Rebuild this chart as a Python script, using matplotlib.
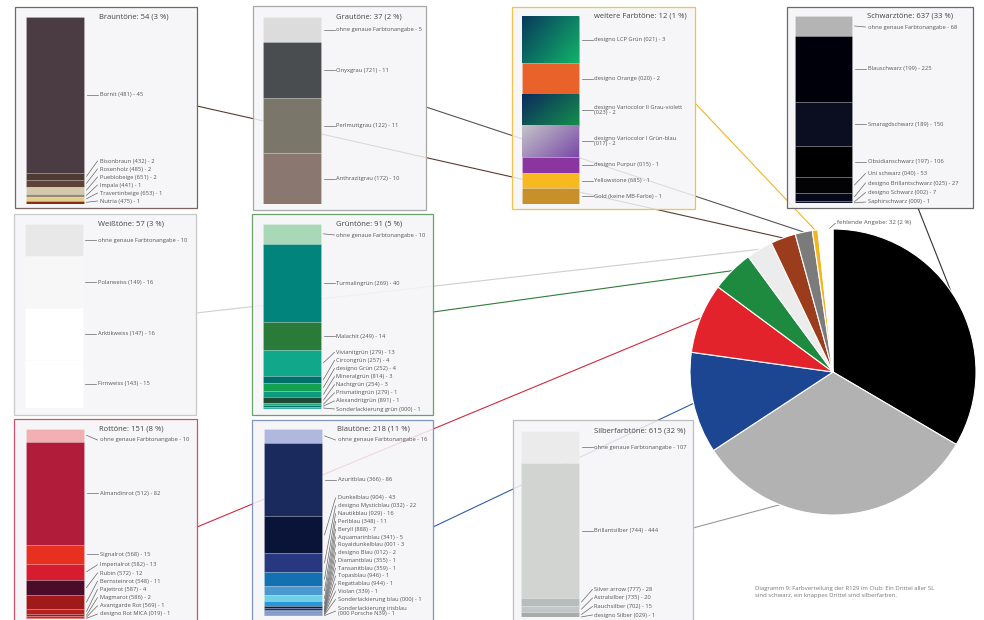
import numpy as np
import matplotlib
matplotlib.use("Agg")
import matplotlib.pyplot as plt
from matplotlib.patches import Rectangle
from matplotlib.colors import LinearSegmentedColormap

plt.rcParams["font.family"] = ["Open Sans", "DejaVu Sans"]
W, H = 984, 620
FS_LAB = 4.15
FS_TIT = 5.5

# ================================================================== DATA
pie_names = ["Schwarztöne", "Silberfarbtöne", "Blautöne", "Rottöne", "Grüntöne",
             "Weißtöne", "Brauntöne", "Grautöne", "weitere Farbtöne", "fehlende Angebe"]
pie_vals = [637, 615, 218, 151, 91, 57, 54, 37, 12, 32]
pie_cols = ["#000000", "#b2b2b2", "#1c4592", "#e3232b", "#1d8a3f",
            "#ececec", "#9b3d1c", "#7b7b7b", "#f2b51e", "#ffffff"]

braun_names = ["Bornit (481)", "Bisonbraun (432)", "Rosenholz (485)", "Pueblobeige (651)",
               "Impala (441)", "Travertinbeige (653)", "Nutria (475)"]
braun_vals = [45, 2, 2, 2, 1, 1, 1]
braun_cols = ["#4b3b42", "#4e3a33", "#5e4236", "#d5c9ad", "#9c8a70", "#e3cf8e", "#8b2d14"]

grau_names = ["ohne genaue Farbtonangabe", "Onyxgrau (721)", "Perlmuttgrau (122)", "Anthrazitgrau (172)"]
grau_vals = [5, 11, 11, 10]
grau_cols = ["#dcdcdc", "#4a4d50", "#7a766a", "#8a7870"]

weitere_names = ["designo LCP Grün (021)", "designo Orange (020)",
                 "designo Variocolor II Grau-violett\n(023)", "designo Variocolor I Grün-blau\n(017)",
                 "designo Purpur (015)", "Yellowstone (685)", "Gold (keine MB-Farbe)"]
weitere_vals = [3, 2, 2, 2, 1, 1, 1]
weitere_cols = ["#0c5a5c", "#e8622a", "#105050", "#a890b8", "#8a35a0", "#f8b820", "#c8902a"]
weitere_grad = {0: ("#083a5c", "#12b26a"), 2: ("#0c2a5e", "#14904c"), 3: ("#c4c4c8", "#7a4aa8")}

schwarz_names = ["ohne genaue Farbtonangabe", "Blauschwarz (199)", "Smaragdschwarz (189)",
                 "Obsidianschwarz (197)", "Uni schwarz (040)", "designo Brillantschwarz (025)",
                 "designo Schwarz (002)", "Saphirschwarz (009)"]
schwarz_vals = [68, 225, 150, 106, 53, 27, 7, 1]
schwarz_cols = ["#b4b4b4", "#00000a", "#0b0d20", "#000000", "#030306", "#07071a", "#10102e", "#1a1a4a"]

weiss_names = ["ohne genaue Farbtonangabe", "Polarweiss (149)", "Arktikweiss (147)", "Firnweiss (143)"]
weiss_vals = [10, 16, 16, 15]
weiss_cols = ["#e8e8e8", "#f7f7f7", "#ffffff", "#ffffff"]

gruen_names = ["ohne genaue Farbtonangabe", "Turmalingrün (269)", "Malachit (249)", "Vivianitgrün (279)",
               "Circongrün (257)", "designo Grün (252)", "Mineralgrün (814)", "Nachtgrün (254)",
               "Prismatingrün (279)", "Alexandritgrün (891)", "Sonderlackierung grün (000)"]
gruen_vals = [10, 40, 14, 13, 4, 4, 3, 3, 1, 1, 1]
gruen_cols = ["#a8d8b8", "#00847c", "#2a7a3a", "#10a88a", "#006e6a", "#10a050", "#0e9a80",
              "#1e4a34", "#20a880", "#10706a", "#30b0a0"]

rot_names = ["ohne genaue Farbtonangabe", "Almandinrot (512)", "Signalrot (568)", "Imperialrot (582)",
             "Rubin (572)", "Bernsteinrot (548)", "Pajettrot (587)", "Magmarot (586)",
             "Avantgarde Rot (569)", "designo Rot MICA (019)"]
rot_vals = [10, 82, 15, 13, 12, 11, 4, 2, 1, 1]
rot_cols = ["#f2b0b4", "#b01c3a", "#e83020", "#d81c30", "#4a0c2a", "#a01a1a", "#b82020",
            "#961c1c", "#d02828", "#e02a2a"]

blau_names = ["ohne genaue Farbtonangabe", "Azuritblau (366)", "Dunkelblau (904)", "designo Mysticblau (032)",
              "Nautikblau (929)", "Perlblau (348)", "Beryll (888)", "Aquamarinblau (341)",
              "Royaldunkelblau (001", "designo Blau (012)", "Diamantblau (355)", "Tansanitblau (359)",
              "Topasblau (946)", "Regattablau (944)", "Violan (339)", "Sonderlackierung blau (000)",
              "Sonderlackierung irisblau\n(000 Porsche N39)"]
blau_vals = [16, 86, 43, 22, 16, 11, 7, 5, 3, 2, 1, 1, 1, 1, 1, 1, 1]
blau_cols = ["#b0b8e0", "#1a2a5c", "#0a1438", "#283880", "#1470b0", "#4a9ad0", "#70d0e8", "#2a98d8",
             "#101a40", "#1a3070", "#4060a0", "#6070b0", "#2050a0", "#3060b0", "#5a60a8", "#3a60a8", "#6a80c0"]

silber_names = ["ohne genaue Farbtonangabe", "Brillantsilber (744)", "Silver arrow (777)",
                "Astralsilber (735)", "Rauchsilber (702)", "designo Silber (029)"]
silber_vals = [107, 444, 28, 20, 15, 1]
silber_cols = ["#ebebeb", "#d2d4d2", "#b8bcbc", "#c2c6c6", "#a8aca8", "#b0b49a"]

caption = ("Diagramm 9: Farbverteilung der R129 im Club: Ein Drittel aller SL\n"
           "sind schwarz, ein knappes Drittel sind silberfarben.")

# ================================================================== LAYOUT (pixels)
groups = [
    dict(key="Brauntöne", names=braun_names, vals=braun_vals, cols=braun_cols,
         box=(15, 7, 197, 208), bar=(26, 17, 84, 204), edge="#7d6262", n_main=1, sp=8.0, pad=3,
         anchor=(197, 106), lcol="#5b3b33", frac=0.5),
    dict(key="Grautöne", names=grau_names, vals=grau_vals, cols=grau_cols,
         box=(253, 6, 426, 210), bar=(263, 17, 321, 204), edge="#a8a8a8", n_main=4, sp=8.0, pad=2,
         anchor=(426, 107), lcol="#555555", frac=0.5),
    dict(key="weitere Farbtöne", names=weitere_names, vals=weitere_vals, cols=weitere_cols,
         box=(512, 7, 695, 209), bar=(522, 16, 579, 204), edge="#f2c24a", n_main=7, sp=8.0, pad=2,
         anchor=(695, 103), lcol="#f0b428", frac=0.5, grad=weitere_grad),
    dict(key="Schwarztöne", names=schwarz_names, vals=schwarz_vals, cols=schwarz_cols,
         box=(787, 7, 973, 208), bar=(795, 16, 852, 203), edge="#6a6a6a", n_main=4, sp=9.5, pad=1,
         anchor=(918, 208), lcol="#333333", frac=0.46),
    dict(key="Weißtöne", names=weiss_names, vals=weiss_vals, cols=weiss_cols,
         box=(14, 214, 196, 415), bar=(25, 224, 83, 408), edge="#c8c8c8", n_main=4, sp=8.0, pad=2,
         anchor=(196, 313), lcol="#cfcfcf", frac=0.5),
    dict(key="Grüntöne", names=gruen_names, vals=gruen_vals, cols=gruen_cols,
         box=(252, 214, 433, 415), bar=(263, 224, 321, 409), edge="#6aa06a", n_main=3, sp=8.1, pad=0,
         anchor=(433, 312), lcol="#2f7d3a", frac=0.5),
    dict(key="Rottöne", names=rot_names, vals=rot_vals, cols=rot_cols,
         box=(14, 419, 197, 621), bar=(26, 429, 84, 619), edge="#d4506a", n_main=3, sp=8.2, pad=5,
         anchor=(197, 527), lcol="#cf2a40", frac=0.5),
    dict(key="Blautöne", names=blau_names, vals=blau_vals, cols=blau_cols,
         box=(252, 420, 433, 621), bar=(264, 429, 322, 616), edge="#7f95c0", n_main=2, sp=7.8, pad=1,
         anchor=(433, 527), lcol="#2f5da0", frac=0.5),
    dict(key="Silberfarbtöne", names=silber_names, vals=silber_vals, cols=silber_cols,
         box=(513, 420, 693, 621), bar=(521, 431, 579, 617), edge="#bdbdbd", n_main=2, sp=8.5, pad=2,
         anchor=(693, 528), lcol="#999999", frac=0.7),
]
PIE_C = (833, 372); PIE_R = 143

fig = plt.figure(figsize=(W / 100, H / 100), dpi=100)
bg = fig.add_axes([0, 0, 1, 1]); bg.set_xlim(0, W); bg.set_ylim(H, 0); bg.axis("off")

# ================================================================== PIE
axp = fig.add_axes([(PIE_C[0] - PIE_R) / W, 1 - (PIE_C[1] + PIE_R) / H, 2 * PIE_R / W, 2 * PIE_R / H])
wedges, _ = axp.pie(pie_vals, colors=pie_cols, startangle=90, counterclock=False,
                    wedgeprops=dict(edgecolor="white", linewidth=0.8))
axp.set_xlim(-1, 1); axp.set_ylim(-1, 1)
pie_total = sum(pie_vals)

def wedge_point(i, frac, r=1.0):
    w = wedges[i]
    a = np.deg2rad(w.theta2 - frac * (w.theta2 - w.theta1))
    disp = axp.transData.transform((r * np.cos(a), r * np.sin(a)))
    return bg.transData.inverted().transform(disp)

# missing-value label
mx, my = wedge_point(9, 0.5, 1.0)
bg.plot([mx + 2, mx + 10], [my + 1, my - 6], color="#666", lw=0.5, zorder=1)
bg.text(mx + 12, my - 7, f"fehlende Angebe: {pie_vals[9]} ({pie_vals[9] / pie_total * 100:.0f} %)",
        fontsize=FS_LAB + 0.3, color="#555", va="center", ha="left")

# ================================================================== BOXES
for g in groups:
    bx0, by0, bx1, by1 = g["box"]
    rx0, ry0, rx1, ry1 = g["bar"]
    gi = pie_names.index(g["key"])
    # connector line to wedge
    ex, ey = wedge_point(gi, g["frac"])
    bg.plot([g["anchor"][0], ex], [g["anchor"][1], ey], color=g["lcol"], lw=0.8, zorder=1)
    bg.add_patch(Rectangle((bx0, by0), bx1 - bx0, by1 - by0, facecolor=(0.962, 0.962, 0.97, 0.85),
                           edgecolor=g["edge"], lw=0.9, zorder=3))

    ax = fig.add_axes([rx0 / W, 1 - ry1 / H, (bx1 - rx0) / W, (ry1 - ry0) / H])
    ax.patch.set_visible(False); ax.axis("off")
    vals = np.array(g["vals"], float); total = vals.sum()
    bw = rx1 - rx0
    k = total / (ry1 - ry0)  # data units per pixel
    cum = np.concatenate([[0], np.cumsum(vals)[:-1]])
    bars = ax.bar(bw / 2, vals, bottom=cum, width=bw, color=g["cols"],
                  edgecolor=(1, 1, 1, 0.22), linewidth=0.5)
    for i, (c1, c2) in g.get("grad", {}).items():
        p = bars.patches[i]
        x0, y0, pw, ph = p.get_x(), p.get_y(), p.get_width(), p.get_height()
        yy, xx = np.mgrid[0:1:60j, 0:1:60j]
        img = 0.6 * xx + 0.4 * yy
        cmap = LinearSegmentedColormap.from_list("g", [c1, c2])
        ax.imshow(img, cmap=cmap, extent=(x0, x0 + pw, y0 + ph, y0), aspect="auto",
                  clip_path=p, zorder=p.get_zorder() + 0.1, interpolation="bilinear")
    ax.set_xlim(0, bx1 - rx0); ax.set_ylim(total, 0)

    mids = cum + vals / 2
    nm = g["n_main"]
    ys = list(np.maximum(mids[:nm], 11 * k))
    sp = g["sp"] * k
    cursor = total - g["pad"] * k
    small = []
    for name in reversed(g["names"][nm:]):
        n = name.count("\n") + 1
        small.append(cursor - (n - 1) / 2 * sp)
        cursor -= n * sp
    ys += small[::-1]
    for i, (name, v) in enumerate(zip(g["names"], g["vals"])):
        ax.plot([bw + 2.5, bw + 13.5], [mids[i], ys[i]], color="#666", lw=0.5, clip_on=False)
        ax.text(bw + 15.5, ys[i], f"{name} - {v}", fontsize=FS_LAB, color="#555",
                va="center", ha="left", linespacing=0.95, clip_on=False)
    tv = pie_vals[gi]
    ax.text(bw + 15, 0, f"{g['key']}: {tv} ({tv / pie_total * 100:.0f} %)", fontsize=FS_TIT,
            color="#444", va="center", ha="left", clip_on=False)

bg.text(755, 592, caption, fontsize=FS_LAB + 0.2, color="#777", va="center", ha="left", linespacing=1.5)

fig.savefig("out.png", dpi=100)
